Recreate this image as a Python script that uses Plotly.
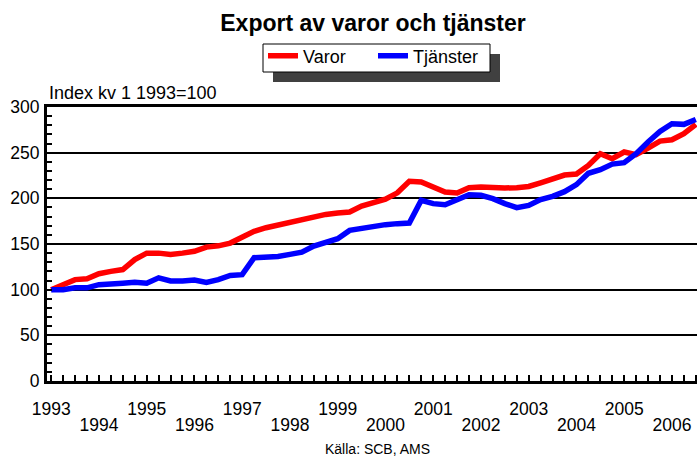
import plotly.graph_objects as go

years = list(range(1993, 2007))
quarter_labels = [f"{y} kv{q}" for y in years for q in range(1, 5)][:55]

varor = [100, 104.7, 111, 112, 117.5, 120, 122, 133,
         140, 140, 138.6, 140, 142, 146.6, 148, 151,
         157, 163.8, 167.8, 171, 173, 176.6, 180, 182.4,
         184, 185, 191.5, 196, 199, 206, 218.6, 217.8,
         211.7, 206.9, 205.8, 211.7, 212.4, 211.3, 211.3, 211.7,
         213, 217, 220.8, 225.5, 226.6, 236, 248.9, 243.4,
         250.7, 247.8, 255, 262.7, 264.2, 270.8, 281]

tjanster = [100, 100, 102, 102, 105.5, 105.5, 107, 108,
            107, 113, 109.5, 109.5, 110.5, 108, 111, 115.6,
            116.4, 135, 135, 136.4, 138.6, 141, 147.7, 151,
            155.8, 164.9, 167.4, 169.3, 171.2, 172.3, 173, 197.8,
            194.2, 193, 197.8, 204, 203.3, 199.7, 194.2, 189.8,
            192.3, 198.6, 202.2, 207.3, 215, 227.4, 231.4, 237.5,
            239, 248.9, 261.6, 273.3, 281.7, 281, 286.4]

series_names = ["Varor", "Tjänster"]
series_colors = ["#ff0000", "#0000ff"]

FONT = "Liberation Sans, Arial, sans-serif"
x_idx = list(range(len(quarter_labels)))

# year label positions (first quarter of each year)
odd_vals, odd_text, even_vals, even_text = [], [], [], []
for i, q in enumerate(quarter_labels):
    if q.endswith("kv1"):
        y = int(q[:4])
        if y % 2 == 1:
            odd_vals.append(i); odd_text.append(str(y))
        else:
            even_vals.append(i); even_text.append(str(y))

main_text = []
for i in x_idx:
    main_text.append(odd_text[odd_vals.index(i)] if i in odd_vals else "")

fig = go.Figure()
for name, vals, col in zip(series_names, [varor, tjanster], series_colors):
    fig.add_trace(go.Scatter(x=x_idx, y=vals, name=name, mode="lines",
                             text=quarter_labels,
                             line=dict(color=col, width=5.5)))
# dummy trace for second x axis
fig.add_trace(go.Scatter(x=[x_idx[0]], y=[None], xaxis="x2", showlegend=False,
                         hoverinfo="skip"))

L, R, T, B = 47, 0, 107, 76
PW, PH = 697 - L - R, 457 - T - B


def px(x):
    return (x - L) / PW


def py(y):
    return (457 - B - y) / PH


xr = [-0.35, 54.1]
fig.update_layout(
    width=697, height=457,
    margin=dict(l=L, r=R, t=T, b=B, autoexpand=False),
    paper_bgcolor="white", plot_bgcolor="white",
    font=dict(family=FONT, color="black", size=17.5),
    title=dict(text="<b>Export av varor och tjänster</b>",
               x=373/697, xanchor="center", y=1 - 23/457, yanchor="middle",
               xref="container", yref="container",
               font=dict(size=23, family=FONT, color="black")),
    showlegend=True,
    legend=dict(orientation="h", xref="container", yref="container",
                x=263/697, xanchor="left", y=1 - 56/457, yanchor="middle",
                bgcolor="rgba(0,0,0,0)", borderwidth=0,
                font=dict(size=18, family=FONT), itemwidth=30,
                entrywidth=65, tracegroupgap=0),
    xaxis=dict(range=xr, tickmode="array", tickvals=x_idx, ticktext=main_text,
               ticks="inside", ticklen=6, tickwidth=1.5, tickcolor="black",
               showline=True, linewidth=3, linecolor="black", mirror=True,
               showgrid=False, zeroline=False, ticklabelstandoff=10,
               tickfont=dict(size=17.5)),
    xaxis2=dict(range=xr, overlaying="x", anchor="y", side="bottom",
                tickmode="array", tickvals=even_vals, ticktext=even_text,
                ticks="", showline=False, showgrid=False, zeroline=False,
                ticklabelstandoff=31, tickfont=dict(size=17.5)),
    yaxis=dict(range=[0, 300], tickmode="linear", tick0=0, dtick=50,
               ticks="inside", ticklen=5, tickwidth=1.5, tickcolor="black",
               showline=True, linewidth=3, linecolor="black",
               showgrid=True, gridcolor="black", gridwidth=1.5,
               zeroline=False, ticklabelstandoff=1,
               minor=dict(dtick=10, ticks="inside", ticklen=5, tickwidth=1.5,
                          tickcolor="black", showgrid=False),
               tickfont=dict(size=17.5)),
    shapes=[
        dict(type="rect", xref="paper", yref="paper",
             x0=px(273), x1=px(500), y0=py(82), y1=py(54),
             fillcolor="#404040", line=dict(width=0), layer="above"),
        dict(type="rect", xref="paper", yref="paper",
             x0=px(263), x1=px(490), y0=py(72), y1=py(44),
             fillcolor="white", line=dict(width=1, color="black"), layer="above"),
    ],
    annotations=[
        dict(text="Index kv 1 1993=100", xref="paper", yref="paper",
             x=0, xanchor="left", y=py(93), yanchor="middle",
             showarrow=False, font=dict(size=18, family=FONT)),
        dict(text="Källa: SCB, AMS", xref="paper", yref="paper",
             x=px(377), xanchor="center", y=py(449), yanchor="middle",
             showarrow=False, font=dict(size=14, family=FONT)),
    ],
)

fig.write_html("out.html", config={"displayModeBar": False},
               post_script="document.body.style.margin='0';")
